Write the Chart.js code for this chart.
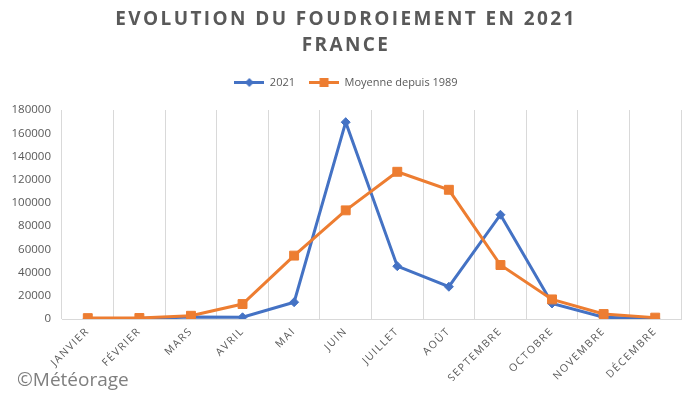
<!DOCTYPE html>
<html>
<head>
<meta charset="utf-8">
<script src="https://cdn.jsdelivr.net/npm/chart.js@4"></script>
<style>
  html, body { margin: 0; padding: 0; background: #fff; }
  #wrap { width: 700px; height: 395px; position: relative; }
</style>
</head>
<body>
<div id="wrap"><canvas id="foudroiementChart"></canvas></div>
<script>
const months = ["JANVIER", "FÉVRIER", "MARS", "AVRIL", "MAI", "JUIN",
  "JUILLET", "AOÛT", "SEPTEMBRE", "OCTOBRE", "NOVEMBRE", "DÉCEMBRE"];
const values2021 = [300, 400, 1700, 1500, 14500, 169500, 45500, 27800, 89800, 13400, 1500, 300];
const moyenne1989 = [800, 900, 2800, 12900, 54600, 93600, 126800, 111300, 46500, 16900, 4300, 1200];
const yMax = 180000;
const yStep = 20000;
const titleLines = ["EVOLUTION DU FOUDROIEMENT EN 2021", "FRANCE"];

const blue = "#4472C4";
const orange = "#ED7D31";
const grey = "#595959";

// little "line + marker" icons for the legend, like the Excel legend
function legendIcon(color, marker) {
  const c = document.createElement("canvas");
  c.width = 30;
  c.height = 11;
  const g = c.getContext("2d");
  g.strokeStyle = color;
  g.lineWidth = 3;
  g.beginPath();
  g.moveTo(0, 5.5);
  g.lineTo(30, 5.5);
  g.stroke();
  g.fillStyle = color;
  if (marker === "diamond") {
    g.beginPath();
    g.moveTo(15, 1);
    g.lineTo(19.5, 5.5);
    g.lineTo(15, 10);
    g.lineTo(10.5, 5.5);
    g.closePath();
    g.fill();
  } else {
    g.fillRect(10.5, 1, 9, 9);
  }
  return c;
}

const letterSpacingPlugin = {
  id: "letterSpacing",
  afterInit(chart) {
    // extra gap between legend and plot area
    const legend = chart.legend;
    if (legend) {
      const fit = legend.fit;
      legend.fit = function () {
        fit.call(this);
        this.height += 12;
      };
    }
  },
  beforeDraw(chart) {
    const xScale = chart.scales.x;
    if (xScale && !xScale._spaced) {
      const orig = xScale.drawLabels;
      xScale.drawLabels = function (area) {
        this.ctx.save();
        this.ctx.letterSpacing = "1.5px";
        orig.call(this, area);
        this.ctx.restore();
      };
      xScale._spaced = true;
    }
    const title = chart.titleBlock;
    if (title && !title._spaced) {
      const origDraw = title.draw;
      title.draw = function () {
        this.ctx.save();
        this.ctx.letterSpacing = "2.4px";
        origDraw.call(this);
        this.ctx.restore();
      };
      title._spaced = true;
    }
  },
};

const watermarkPlugin = {
  id: "watermark",
  afterDraw(chart) {
    const ctx = chart.ctx;
    ctx.save();
    ctx.font = '19px "Open Sans"';
    ctx.fillStyle = "#7f7f7f";
    ctx.textBaseline = "middle";
    ctx.fillText("©Météorage", 17, 381);
    ctx.restore();
  },
};

document.addEventListener("DOMContentLoaded", () => {
  const chartCtx = document.getElementById("foudroiementChart").getContext("2d");
  new Chart(chartCtx, {
    type: "line",
    data: {
      labels: months,
      datasets: [
        {
          label: "2021",
          data: values2021,
          borderColor: blue,
          backgroundColor: blue,
          borderWidth: 3,
          pointStyle: "rectRot",
          pointRadius: 4.5,
          pointBorderWidth: 1,
          tension: 0,
          order: 2,
        },
        {
          label: "Moyenne depuis 1989",
          data: moyenne1989,
          borderColor: orange,
          backgroundColor: orange,
          borderWidth: 3,
          pointStyle: "rect",
          pointRadius: 6.3,
          pointBorderWidth: 1,
          tension: 0,
          order: 1,
        },
      ],
    },
    options: {
      responsive: true,
      maintainAspectRatio: false,
      animation: false,
      layout: {
        padding: { left: 11, right: 19, top: 0, bottom: 14 },
      },
      scales: {
        x: {
          offset: true,
          grid: { color: "#d9d9d9", offset: true, drawTicks: false },
          border: { color: "#d9d9d9" },
          ticks: {
            color: grey,
            font: { family: "Open Sans", size: 10.5 },
            maxRotation: 45,
            minRotation: 45,
            autoSkip: false,
            padding: 6,
          },
          afterFit: (scale) => {
            scale.paddingLeft = 0;
            scale.paddingRight = 0;
          },
        },
        y: {
          min: 0,
          max: yMax,
          grid: { display: false, drawTicks: false },
          border: { display: false },
          ticks: {
            stepSize: yStep,
            color: grey,
            font: { family: "Open Sans", size: 11.5 },
            padding: 11,
            callback: (v) => String(v),
          },
          afterFit: (scale) => {
            scale.width = 51;
          },
        },
      },
      plugins: {
        title: {
          display: true,
          text: titleLines,
          color: grey,
          font: { family: "Open Sans", size: 19, weight: "bold", lineHeight: 26 / 19 },
          padding: { top: 7, bottom: 4 },
        },
        legend: {
          labels: {
            color: grey,
            font: { family: "Open Sans", size: 11 },
            usePointStyle: true,
            pointStyleWidth: 30,
            padding: 14,
            generateLabels: (chart) =>
              chart.data.datasets.map((ds, i) => ({
                text: ds.label,
                fillStyle: ds.borderColor,
                strokeStyle: ds.borderColor,
                fontColor: grey,
                lineWidth: 0,
                hidden: !chart.isDatasetVisible(i),
                datasetIndex: i,
                pointStyle: legendIcon(ds.borderColor, i === 0 ? "diamond" : "square"),
              })),
          },
        },
        tooltip: { enabled: false },
      },
    },
    plugins: [letterSpacingPlugin, watermarkPlugin],
  });
});
</script>
</body>
</html>
